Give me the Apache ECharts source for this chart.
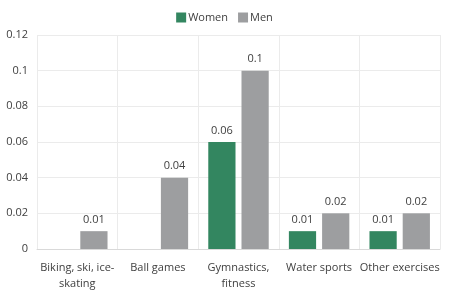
<!DOCTYPE html>
<html><head><meta charset="utf-8">
<script src="https://cdn.jsdelivr.net/npm/echarts@6/dist/echarts.min.js"></script>
<style>html,body{margin:0;padding:0;background:#fff}#c{width:449px;height:292px}</style>
</head><body><div id="c"></div>
<script>
var categories = ["Biking, ski, ice-\nskating", "Ball games", "Gymnastics,\nfitness", "Water sports", "Other exercises"];
var women = [null, null, 0.06, 0.01, 0.01];
var men = [0.01, 0.04, 0.1, 0.02, 0.02];
var yTicks = [0, 0.02, 0.04, 0.06, 0.08, 0.1, 0.12];
var font = "'Open Sans', 'Noto Sans', sans-serif";
var chart = echarts.init(document.getElementById('c'), null, {renderer: 'canvas'});
chart.setOption({
  animation: false,
  textStyle: {fontFamily: font},
  legend: {
    top: 7, left: 'center', itemWidth: 10, itemHeight: 10, itemGap: 10,
    icon: 'rect',
    textStyle: {fontSize: 11, color: '#404040', fontFamily: font, padding: [0,0,0,-3]},
    data: ['Women', 'Men']
  },
  grid: {left: 37, right: 9, top: 35, bottom: 39, containLabel: false},
  xAxis: {
    type: 'category', data: categories,
    axisLine: {lineStyle: {color: '#d9d9d9'}},
    axisTick: {show: false},
    axisLabel: {color: '#404040', fontSize: 11, fontFamily: font, margin: 11, interval: 0, lineHeight: 16},
    splitLine: {show: true, lineStyle: {color: '#ebebeb'}}
  },
  yAxis: {
    type: 'value', min: 0, max: 0.12, interval: 0.02,
    axisLine: {show: false}, axisTick: {show: false},
    axisLabel: {color: '#404040', fontSize: 11, fontFamily: font, margin: 9,
      formatter: function(v){ var s = yTicks.find(function(t){return Math.abs(t-v)<1e-9;}); return String(+(s!==undefined?s:v).toFixed(2)); }},
    splitLine: {lineStyle: {color: '#ebebeb'}}
  },
  series: [
    {name: 'Women', type: 'bar', data: women, itemStyle: {color: '#338660'},
     barGap: '22%', barCategoryGap: '25%',
     label: {show: true, position: 'top', distance: 6, color: '#404040', fontSize: 11, fontFamily: font}},
    {name: 'Men', type: 'bar', data: men, itemStyle: {color: '#9d9ea0'},
     label: {show: true, position: 'top', distance: 6, color: '#404040', fontSize: 11, fontFamily: font}}
  ]
});
</script></body></html>
